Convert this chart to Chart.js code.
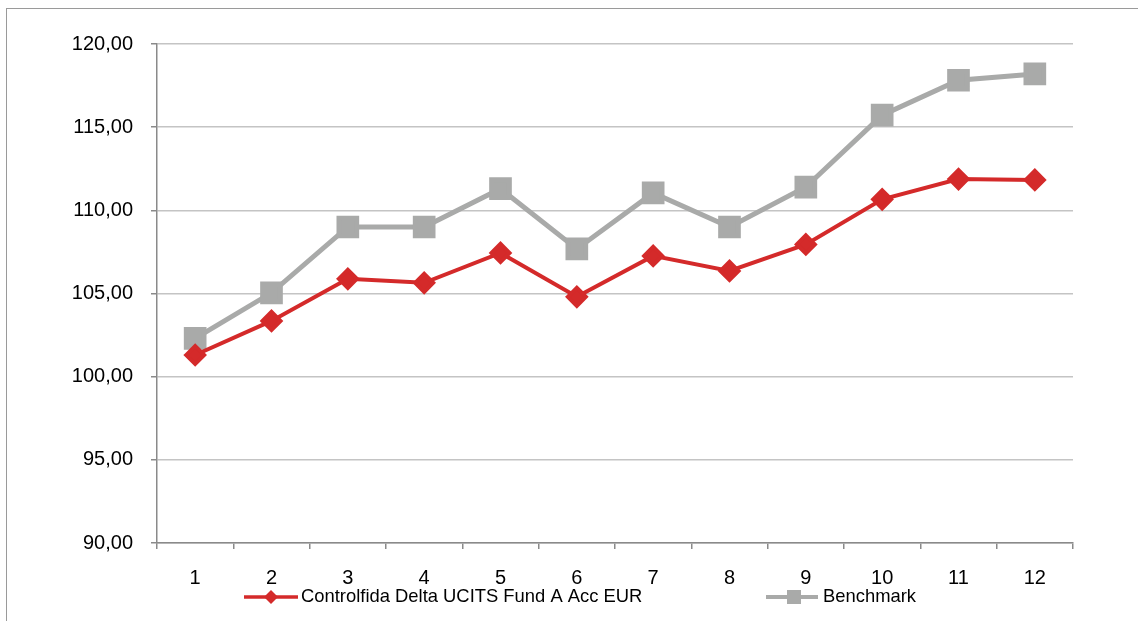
<!DOCTYPE html>
<html>
<head>
<meta charset="utf-8">
<script src="https://cdn.jsdelivr.net/npm/chart.js@4"></script>
<style>
    html, body { margin: 0; padding: 0; background: #fff; overflow: hidden; }
    #wrap { position: relative; width: 1138px; height: 621px; }
    #frame { position: absolute; left: 6px; top: 8px; width: 1300px; height: 800px;
             border-left: 1.5px solid #9a9a9a; border-top: 1.5px solid #9a9a9a; }
    canvas { position: absolute; left: 0; top: 0; }
</style>
</head>
<body>
<div id="wrap">
    <div id="frame"></div>
    <canvas id="navChart" width="1138" height="621"></canvas>
</div>
<script>
// data
const months = ['1', '2', '3', '4', '5', '6', '7', '8', '9', '10', '11', '12'];
const fundValues = [101.3, 103.35, 105.88, 105.64, 107.44, 104.8, 107.26, 106.36, 107.95, 110.66, 111.88, 111.83];
const benchmarkValues = [102.3, 105.04, 109.0, 109.0, 111.3, 107.68, 111.05, 109.0, 111.4, 115.72, 117.82, 118.2];
const yTicks = [90, 95, 100, 105, 110, 115, 120];

const fundLabel = 'Controlfida Delta UCITS Fund A Acc EUR';
const benchLabel = 'Benchmark';
const RED = '#d42a2a';
const GREY = '#a9aaa9';
const FONT = 'Arial, "Liberation Sans", sans-serif';

// legend drawn by hand, it sits on top of the x labels like in the original
const bottomLegend = {
    id: 'bottomLegend',
    afterDraw(chart) {
        const ctx = chart.ctx;
        const y = 597;
        ctx.save();
        ctx.font = '18.4px ' + FONT;
        ctx.textBaseline = 'middle';

        // fund item
        ctx.strokeStyle = RED;
        ctx.lineWidth = 3.5;
        ctx.beginPath();
        ctx.moveTo(244, y);
        ctx.lineTo(298, y);
        ctx.stroke();
        ctx.fillStyle = RED;
        ctx.beginPath();
        ctx.moveTo(271, y - 7);
        ctx.lineTo(278, y);
        ctx.lineTo(271, y + 7);
        ctx.lineTo(264, y);
        ctx.closePath();
        ctx.fill();
        ctx.fillStyle = '#000';
        ctx.fillText(fundLabel, 301, y);

        // benchmark item
        ctx.strokeStyle = GREY;
        ctx.lineWidth = 4;
        ctx.beginPath();
        ctx.moveTo(766, y);
        ctx.lineTo(818, y);
        ctx.stroke();
        ctx.fillStyle = GREY;
        ctx.fillRect(787, y - 7, 14, 14);
        ctx.fillStyle = '#000';
        ctx.fillText(benchLabel, 823, y);
        ctx.restore();
    }
};

const ctx = document.getElementById('navChart').getContext('2d');
new Chart(ctx, {
    type: 'line',
    data: {
        labels: months,
        datasets: [{
            label: fundLabel,
            data: fundValues,
            borderColor: RED,
            backgroundColor: RED,
            borderWidth: 4,
            pointStyle: 'rectRot',
            pointRadius: 9,
            pointHoverRadius: 9,
            tension: 0,
            order: 1
        }, {
            label: benchLabel,
            data: benchmarkValues,
            borderColor: GREY,
            backgroundColor: GREY,
            borderWidth: 5,
            pointStyle: 'rect',
            pointRadius: 12.5,
            pointHoverRadius: 12.5,
            tension: 0,
            order: 2
        }]
    },
    options: {
        responsive: false,
        animation: false,
        layout: { padding: { left: 0, top: 44, right: 65, bottom: 0 } },
        plugins: {
            legend: { display: false },
            tooltip: { enabled: false }
        },
        scales: {
            x: {
                offset: true,
                grid: {
                    offset: true,
                    drawOnChartArea: false,
                    drawTicks: true,
                    tickLength: 6,
                    color: '#8a8a8a',
                    lineWidth: 1.5
                },
                border: { color: '#8a8a8a', width: 1.5 },
                ticks: {
                    color: '#000',
                    padding: 17,
                    font: { family: FONT, size: 20 }
                },
                afterFit(scale) { scale.height = 78; }
            },
            y: {
                min: 90,
                max: 120,
                afterBuildTicks(scale) { scale.ticks = yTicks.map(v => ({ value: v })); },
                grid: {
                    color: '#c4c4c4',
                    lineWidth: 1.5,
                    tickLength: 6,
                    tickColor: '#8a8a8a'
                },
                border: { color: '#8a8a8a', width: 1.5 },
                ticks: {
                    color: '#000',
                    padding: 18,
                    font: { family: FONT, size: 20 },
                    callback: v => v.toFixed(2).replace('.', ',')
                },
                afterFit(scale) { scale.width = 157; }
            }
        }
    },
    plugins: [bottomLegend]
});
</script>
</body>
</html>
